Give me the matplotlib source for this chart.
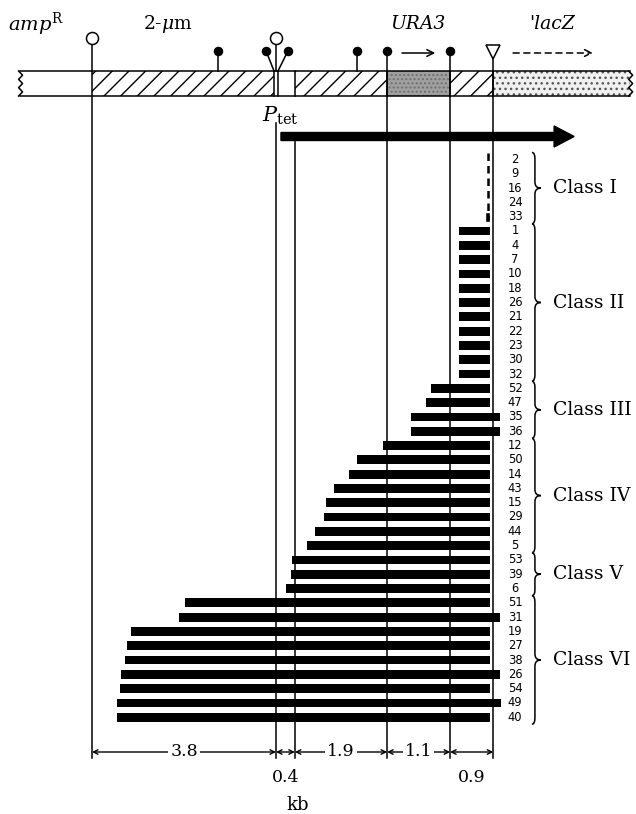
import matplotlib
matplotlib.use('Agg')
import matplotlib.pyplot as plt
from matplotlib.patches import Rectangle, FancyArrow, PathPatch
from matplotlib.path import Path

plt.rcParams['mathtext.fontset'] = 'dejavuserif'
plt.rcParams['hatch.linewidth'] = 1.0

# ---------------- data ----------------
clone_ids = ['2', '9', '16', '24', '33',
             '1', '4', '7', '10', '18', '26', '21', '22', '23', '30', '32',
             '52', '47', '35', '36',
             '12', '50', '14', '43', '15', '29', '44', '5',
             '53', '39', '6',
             '51', '31', '19', '27', '38', '26', '54', '49', '40']
class_names = ['Class I', 'Class II', 'Class III', 'Class IV', 'Class V', 'Class VI']
class_sizes = [5, 11, 4, 8, 3, 9]
# deletion extents (kb from the ampR site)
del_start_kb = [7.99] * 5 + [7.40] * 11 + \
    [6.83, 6.73, 6.43, 6.43] + \
    [5.86, 5.34, 5.18, 4.88, 4.71, 4.68, 4.49, 4.33] + \
    [4.03, 4.01, 3.91] + \
    [1.88, 1.75, 0.79, 0.70, 0.66, 0.59, 0.56, 0.50, 0.50]
del_end_kb = [7.99] * 5 + [8.03] * 11 + \
    [8.03, 8.03, 8.23, 8.23] + \
    [8.03] * 8 + \
    [8.03] * 3 + \
    [8.03, 8.23, 8.03, 8.03, 8.03, 8.22, 8.03, 8.24, 8.03]

# map landmarks (kb)
boundary_kb = [0.0, 3.71, 4.09, 5.95, 7.22, 8.09]
segment_labels = ['3.8', '0.4', '1.9', '1.1', '0.9']
map_blocks = [(-1.45, 0.0, 'white'), (0.0, 3.67, 'hatch'), (3.67, 4.09, 'white'),
              (4.09, 5.95, 'hatch'), (5.95, 7.22, 'grey'), (7.22, 8.09, 'hatch'),
              (8.09, 10.85, 'stipple')]
open_sites_kb = [0.0, 3.71]
filled_short_kb = [2.54, 5.34]
filled_long_kb = [5.95, 7.22]
branch_sites_kb = [3.51, 3.95]
promoter_kb = 3.81
transcript_end_kb = 9.72

# ---------------- layout ----------------
S = 49.6  # px per kb
X0 = 92
fig = plt.figure(figsize=(6.36, 8.14), dpi=100)
ax = fig.add_axes([0, 0, 1, 1])
ax.set_xlim(-X0 / S, (636 - X0) / S)
ax.set_ylim(814, 0)
ax.axis('off')

LW = 1.1
bar_top, bar_bot = 71, 96
line_bottom = 758

# map bar fills
for a, b, kind in map_blocks:
    if kind == 'hatch':
        ax.add_patch(Rectangle((a, bar_top), b - a, bar_bot - bar_top, facecolor='white',
                               edgecolor='black', hatch='//', linewidth=0, zorder=1))
    elif kind == 'grey':
        ax.add_patch(Rectangle((a, bar_top), b - a, bar_bot - bar_top, facecolor='#a0a0a0',
                               edgecolor='#707070', hatch='....', linewidth=0, zorder=1))
    elif kind == 'stipple':
        ax.add_patch(Rectangle((a, bar_top), b - a, bar_bot - bar_top, facecolor='#f0f0f0',
                               edgecolor='#555555', hatch='...', linewidth=0, zorder=1))
    else:
        ax.add_patch(Rectangle((a, bar_top), b - a, bar_bot - bar_top, facecolor='white',
                               linewidth=0, zorder=1))
left_end, right_end = map_blocks[0][0], map_blocks[-1][1]
ax.plot([left_end, right_end], [bar_top, bar_top], color='black', lw=LW, zorder=3)
ax.plot([left_end, right_end], [bar_bot, bar_bot], color='black', lw=LW, zorder=3)
for xb in [3.67, 3.75, 4.09, 5.95, 7.22, 8.09]:
    ax.plot([xb, xb], [bar_top, bar_bot], color='black', lw=LW, zorder=3)
# wavy ends
for xe in [left_end, right_end]:
    ys = [bar_top + i * (bar_bot - bar_top) / 6 for i in range(7)]
    xs = [xe + (0.05 if i % 2 else -0.03) for i in range(7)]
    ax.plot(xs, ys, color='black', lw=LW, zorder=3)

# long vertical lines
long_lines = [(boundary_kb[0], 44), (boundary_kb[1], 123), (boundary_kb[2], 141),
              (boundary_kb[3], 51), (boundary_kb[4], 51), (boundary_kb[5], 57)]
for xv, ytop in long_lines:
    ax.plot([xv, xv], [ytop, line_bottom], color='black', lw=LW, zorder=2)

# lollipop stems
ax.plot([open_sites_kb[1], open_sites_kb[1]], [43, bar_top], color='black', lw=LW, zorder=3)
for xs_ in filled_short_kb:
    ax.plot([xs_, xs_], [51, bar_top], color='black', lw=LW, zorder=3)
ax.plot([branch_sites_kb[0], 3.67], [51, bar_top], color='black', lw=LW, zorder=3)
ax.plot([branch_sites_kb[1], 3.75], [51, bar_top], color='black', lw=LW, zorder=3)
# heads
ax.scatter(open_sites_kb, [38, 38], s=75, facecolor='white', edgecolor='black',
           linewidth=1.1, zorder=5)
ax.scatter(filled_short_kb + filled_long_kb + branch_sites_kb, [51] * 6, s=34,
           color='black', zorder=5)
ax.plot([boundary_kb[5]], [52], marker='v', markersize=10, markerfacecolor='white',
        markeredgecolor='black', markeredgewidth=1.1, zorder=5)

# gene direction arrows
ax.annotate('', xy=(6.92, 53), xytext=(6.25, 53),
            arrowprops=dict(arrowstyle='->', lw=1.1, color='black', mutation_scale=12,
                            shrinkA=0, shrinkB=0))
ax.annotate('', xy=(10.10, 53), xytext=(8.49, 53),
            arrowprops=dict(arrowstyle='->', lw=1.1, color='black', linestyle=(0, (4, 3)),
                            mutation_scale=12, shrinkA=0, shrinkB=0))

# top labels
ax.text(-1.13, 24, r'$amp^{\mathrm{R}}$', fontsize=14, ha='center', va='center')
ax.text(1.53, 24, r'2-$\mu$m', fontsize=13.5, ha='center', va='center',
        family='DejaVu Serif')
ax.text(6.57, 24, 'URA3', fontsize=13.5, ha='center', va='center',
        family='DejaVu Serif', style='italic')
ax.text(9.27, 24, "'lacZ", fontsize=13.5, ha='center', va='center',
        family='DejaVu Serif', style='italic')
ax.text(3.80, 116, r'$P_{\mathrm{tet}}$', fontsize=15, ha='center', va='center')

# transcript arrow
ax.add_patch(FancyArrow(promoter_kb, 136.5, transcript_end_kb - promoter_kb, 0,
                        width=8, head_width=21, head_length=20 / S,
                        length_includes_head=True, color='black', zorder=4))

# deletion bars
row0, dy = 159.5, 14.3
rows = [row0 + i * dy for i in range(len(clone_ids))]
widths = [e - s for s, e in zip(del_start_kb, del_end_kb)]
ax.barh(rows[5:], widths[5:], left=del_start_kb[5:], height=8.8, color='black', zorder=4)
# class I: no deletion visible -> dashed mark
ax.plot([del_start_kb[0], del_start_kb[0]], [rows[0] - 7, rows[4] + 3], color='black',
        lw=1.8, linestyle=(0, (3, 2)), zorder=4)
ax.plot([del_start_kb[4], del_start_kb[4]], [rows[4] - 2, rows[4] + 3], color='black',
        lw=2.6, zorder=4)

for y, cid in zip(rows, clone_ids):
    ax.text(8.53, y, cid, fontsize=8.3, ha='center', va='center', family='DejaVu Sans')


def brace(x, y0, y1, w):
    ym = (y0 + y1) / 2
    c = min((y1 - y0) * 0.12, 6)
    verts = [(x - w * 0.5, y0), (x, y0), (x, y0 + c),
             (x, ym - c),
             (x, ym), (x + w, ym),
             (x, ym), (x, ym + c),
             (x, y1 - c),
             (x, y1), (x - w * 0.5, y1)]
    codes = [Path.MOVETO, Path.CURVE3, Path.CURVE3, Path.LINETO,
             Path.CURVE3, Path.CURVE3, Path.CURVE3, Path.CURVE3,
             Path.LINETO, Path.CURVE3, Path.CURVE3]
    ax.add_patch(PathPatch(Path(verts, codes), facecolor='none', edgecolor='black',
                           lw=1.1, zorder=4))


start = 0
for name, n in zip(class_names, class_sizes):
    y0 = rows[start] - 7
    y1 = rows[start + n - 1] + 7
    brace(8.93, y0, y1, 0.12)
    ax.text(9.29, (rows[start] + rows[start + n - 1]) / 2, name, fontsize=13.5,
            ha='left', va='center', family='DejaVu Serif')
    start += n

# dimension arrows
dim_y = 752
for i, lab in enumerate(segment_labels):
    a, b = boundary_kb[i], boundary_kb[i + 1]
    ax.annotate('', xy=(b, dim_y), xytext=(a, dim_y),
                arrowprops=dict(arrowstyle='<->', lw=1.0, color='black', mutation_scale=8,
                                shrinkA=0, shrinkB=0), zorder=3)
    mid = (a + b) / 2
    if lab in ('0.4', '0.9'):
        ax.text(mid, 777, lab, fontsize=12.5, ha='center', va='center',
                family='DejaVu Serif')
    else:
        ax.text(mid, dim_y, lab, fontsize=12.5, ha='center', va='center',
                family='DejaVu Serif', zorder=5,
                bbox=dict(facecolor='white', edgecolor='none', pad=1.5))
ax.text(4.14, 805, 'kb', fontsize=13, ha='center', va='center', family='DejaVu Serif')

fig.savefig('out.png', dpi=100, facecolor='white')
